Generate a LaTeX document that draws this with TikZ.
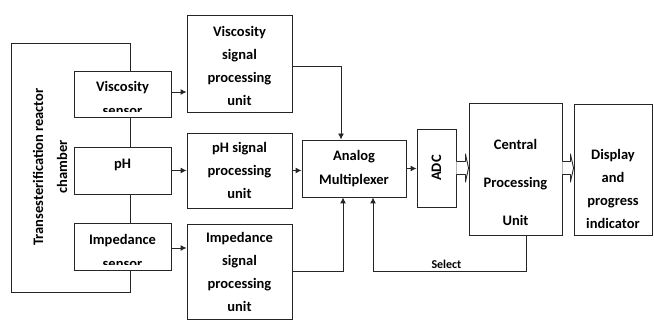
\documentclass[tikz,border=0pt]{standalone}
\usepackage{fontspec}
\setmainfont{Carlito}
\usetikzlibrary{arrows.meta,calc}
\begin{document}
\begin{tikzpicture}[x=1pt,y=-1pt,
  ln/.style={draw=black!85,line width=0.9pt},
  box/.style={ln,fill=white,rectangle,inner sep=0pt,align=center,
    font=\fontsize{14.5}{23}\selectfont\bfseries},
  lbl/.style={font=\fontsize{14.5}{23}\selectfont\bfseries,anchor=base,inner sep=0pt},
  txt/.style={align=center,inner sep=0pt,font=\fontsize{14.5}{23}\selectfont\bfseries},
  conn/.style={ln,-{Latex[length=6pt,width=6pt]}},
  hollow/.style={ln,fill=white,line join=round}]
\useasboundingbox (0,0) rectangle (654,320);
% chamber
\node[ln,rectangle,minimum width=119pt,minimum height=249pt,inner sep=0pt] (ch) at (70.5,167.5) {};
\node[rotate=90,align=center,font=\fontsize{14.5}{24}\selectfont\bfseries] (chl) at (50,167) {Transesterification reactor\\chamber};
% sensors
\node[box,minimum width=97pt,minimum height=46pt] (vs) at (122.5,94) {};
\node[box,minimum width=97pt,minimum height=47pt] (ph) at (122.5,170.5) {};
\node[lbl] (pht) at (122.5,169) {pH};
\node[box,minimum width=97pt,minimum height=47pt] (imp) at (122.5,246.5) {};
\node[lbl] (vst) at (122.5,92) {Viscosity};
\node[lbl] (impt) at (122.5,245) {Impedance};
\begin{scope}
\clip (74,71) rectangle (171,112);
\node[lbl] (vst2) at (122.5,116) {sensor};
\end{scope}
\begin{scope}
\clip (74,223) rectangle (171,265);
\node[lbl] (impt2) at (122.5,269) {sensor};
\end{scope}
% signal processing units
\node[box,minimum width=105pt,minimum height=97pt] (vspu) at (239.5,64) {};
\node[txt] (vspt) at (239.5,66) {Viscosity\\signal\\processing\\unit};
\node[box,minimum width=105pt,minimum height=75pt] (phspu) at (239.5,170.5) {pH signal\\processing\\unit};
\node[box,minimum width=105pt,minimum height=95pt] (impspu) at (239.5,271.5) {Impedance\\signal\\processing\\unit};
% mux, adc, cpu, display
\node[box,minimum width=104pt,minimum height=57pt,font=\fontsize{14.5}{24}\selectfont\bfseries] (mux) at (354,168.5) {Analog\\Multiplexer};
\node[box,minimum width=39pt,minimum height=78pt] (adc) at (436.5,168) {};
\node[rotate=90,font=\fontsize{14.5}{23}\selectfont\bfseries] (adct) at (adc.center) {ADC};
\node[box,minimum width=93pt,minimum height=132pt] (cpu) at (515.5,169) {};
\node[txt,font=\fontsize{14.5}{38}\selectfont\bfseries] (cput) at (515.5,182) {Central\\Processing\\Unit};
\node[box,minimum width=78pt,minimum height=131pt] (disp) at (613,169.5) {};
\node[txt] (dispt) at (613,189) {Display\\and\\progress\\indicator};
% sensor arrows
\draw[conn] ($(vs.east)+(0,-2)$) -- ($(vs.east -| vspu.west)+(0,-2)$);
\draw[conn] (ph.east) -- (ph.east -| phspu.west);
\draw[conn] ($(imp.east)+(0,1.5)$) -- ($(imp.east -| impspu.west)+(0,1.5)$);
% to mux
\coordinate (v1) at ($(vspu.east)+(0,2)$);
\coordinate (m1) at ($(mux.north)+(-13,0)$);
\draw[conn] (v1) -| (m1);
\draw[conn] (phspu.east) -- (phspu.east -| mux.west);
\coordinate (i1) at ($(impspu.east)+(0,-0.5)$);
\coordinate (m2) at ($(mux.south)+(-11,0)$);
\draw[conn] (i1) -| (m2);
\draw[conn] (mux.east) -- (mux.east -| adc.west);
% select
\coordinate (c1) at ($(cpu.south)+(10.5,0)$);
\coordinate (sel) at ($(c1)+(0,36)$);
\coordinate (m3) at ($(mux.south)+(19,0)$);
\draw[conn] (c1) -- (sel) -| (m3);
\node[font=\fontsize{12}{14}\selectfont\bfseries,anchor=base] (sell) at ($(sel)!0.52!(sel -| m3)+(0,-3)$) {Select};
% hollow arrows
\draw[hollow] ($(adc.east)+(0,-6.5)$) -- ($(adc.east)+(9,-6.5)$) -- ($(adc.east)+(9,-14)$)
  -- ($(adc.east -| cpu.west)$) -- ($(adc.east)+(9,14)$) -- ($(adc.east)+(9,6.5)$) -- ($(adc.east)+(0,6.5)$);
\coordinate (h2) at ($(cpu.east)+(0,-1)$);
\draw[hollow] ($(h2)+(0,-6.5)$) -- ($(h2)+(8,-6.5)$) -- ($(h2)+(8,-14)$)
  -- (h2 -| disp.west) -- ($(h2)+(8,14)$) -- ($(h2)+(8,6.5)$) -- ($(h2)+(0,6.5)$);
\end{tikzpicture}
\end{document}
